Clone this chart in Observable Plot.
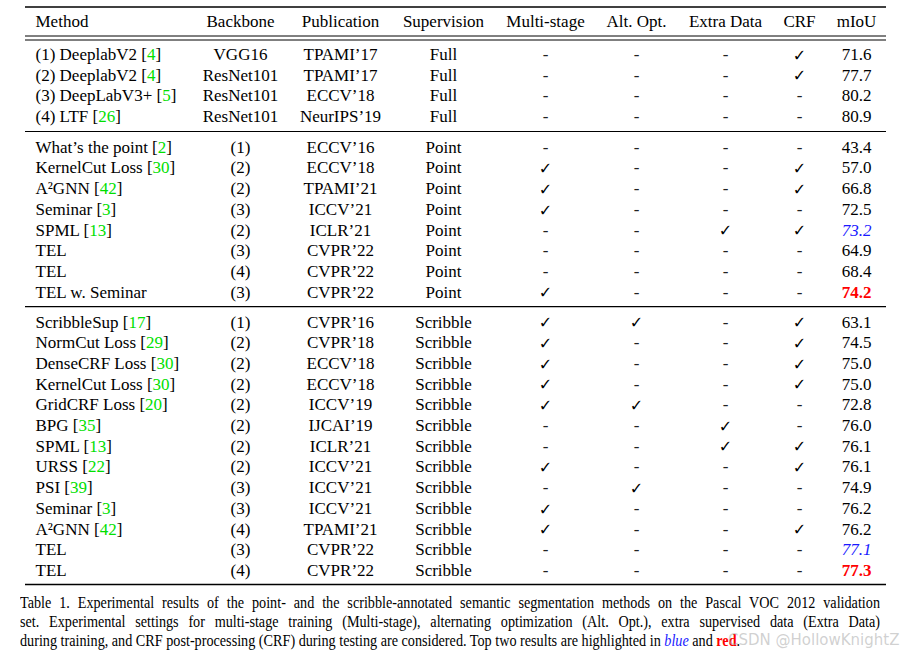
<!DOCTYPE html>
<html>
<head>
<meta charset="utf-8">
<script src="https://cdn.jsdelivr.net/npm/d3@7"></script>
<script src="https://cdn.jsdelivr.net/npm/@observablehq/plot@0.6"></script>
<style>
  html, body { margin: 0; padding: 0; background: #fff; }
  #wrap { position: relative; width: 904px; height: 654px; overflow: hidden; }
  #caption { position: absolute; left: 20px; top: 593px; width: 1000px;
    transform: scaleX(0.86); transform-origin: 0 0;
    font-family: "Liberation Serif", "Times New Roman", serif; font-size: 16.5px; line-height: 19px; color: #000; }
  #caption div { white-space: nowrap; }
  #caption .j { text-align: justify; text-align-last: justify; white-space: normal; }
  #wm { position: absolute; left: 728px; top: 631px; font-family: "DejaVu Sans", sans-serif; font-size: 15px; color: rgba(170,170,170,0.55); }
</style>
</head>
<body>
<div id="wrap">
  <div id="chart"></div>
  <div id="caption">
    <div class="j">Table 1. Experimental results of the point- and the scribble-annotated semantic segmentation methods on the Pascal VOC 2012 validation</div>
    <div class="j">set. Experimental settings for multi-stage training (Multi-stage), alternating optimization (Alt. Opt.), extra supervised data (Extra Data)</div>
    <div>during training, and CRF post-processing (CRF) during testing are considered. Top two results are highlighted in <i style="color:#1a1aff">blue</i> and <b style="color:#ff0000">red</b>.</div>
  </div>
  <div id="wm">CSDN @HollowKnightZ</div>
</div>
<script>
// ---- data ----
const headers = ["Method", "Backbone", "Publication", "Supervision", "Multi-stage", "Alt. Opt.", "Extra Data", "CRF", "mIoU"];
const methods = ["(1) DeeplabV2 [4]", "(2) DeeplabV2 [4]", "(3) DeepLabV3+ [5]", "(4) LTF [26]",
  "What’s the point [2]", "KernelCut Loss [30]", "A²GNN [42]", "Seminar [3]", "SPML [13]", "TEL", "TEL", "TEL w. Seminar",
  "ScribbleSup [17]", "NormCut Loss [29]", "DenseCRF Loss [30]", "KernelCut Loss [30]", "GridCRF Loss [20]", "BPG [35]",
  "SPML [13]", "URSS [22]", "PSI [39]", "Seminar [3]", "A²GNN [42]", "TEL", "TEL"];
const backbones = ["VGG16", "ResNet101", "ResNet101", "ResNet101",
  "(1)", "(2)", "(2)", "(3)", "(2)", "(3)", "(4)", "(3)",
  "(1)", "(2)", "(2)", "(2)", "(2)", "(2)", "(2)", "(2)", "(3)", "(3)", "(4)", "(3)", "(4)"];
const publications = ["TPAMI’17", "TPAMI’17", "ECCV’18", "NeurIPS’19",
  "ECCV’16", "ECCV’18", "TPAMI’21", "ICCV’21", "ICLR’21", "CVPR’22", "CVPR’22", "CVPR’22",
  "CVPR’16", "CVPR’18", "ECCV’18", "ECCV’18", "ICCV’19", "IJCAI’19", "ICLR’21", "ICCV’21", "ICCV’21", "ICCV’21", "TPAMI’21", "CVPR’22", "CVPR’22"];
const supervision = ["Full", "Full", "Full", "Full",
  "Point", "Point", "Point", "Point", "Point", "Point", "Point", "Point",
  "Scribble", "Scribble", "Scribble", "Scribble", "Scribble", "Scribble", "Scribble", "Scribble", "Scribble", "Scribble", "Scribble", "Scribble", "Scribble"];
const multiStage = [0, 0, 0, 0, 0, 1, 1, 1, 0, 0, 0, 1, 1, 1, 1, 1, 1, 0, 0, 1, 0, 1, 1, 0, 0];
const altOpt     = [0, 0, 0, 0, 0, 0, 0, 0, 0, 0, 0, 0, 1, 0, 0, 0, 1, 0, 0, 0, 1, 0, 0, 0, 0];
const extraData  = [0, 0, 0, 0, 0, 0, 0, 0, 1, 0, 0, 0, 0, 0, 0, 0, 0, 1, 1, 0, 0, 0, 0, 0, 0];
const crf        = [1, 1, 0, 0, 0, 1, 1, 0, 1, 0, 0, 0, 1, 1, 1, 1, 0, 0, 1, 1, 0, 0, 1, 0, 0];
const mIoU = [71.6, 77.7, 80.2, 80.9,
  43.4, 57.0, 66.8, 72.5, 73.2, 64.9, 68.4, 74.2,
  63.1, 74.5, 75.0, 75.0, 72.8, 76.0, 76.1, 76.1, 74.9, 76.2, 76.2, 77.1, 77.3];
const highlightGroups = ["Point", "Scribble"];

// ---- layout ----
const W = 904, H = 592;
const colX = [35, 240, 340, 443, 545, 636, 725, 799, 856];
const headerY = 21;
const groupStart = {Full: 54, Point: 146.8, Scribble: 321.6};
const pitch = 20.7;
const ruleL = 25, ruleR = 886;
const serif = "Liberation Serif, Times New Roman, DejaVu Sans, serif";

// ---- build rows ----
const counter = {};
const rows = methods.map((m, i) => {
  const g = supervision[i];
  counter[g] = (counter[g] ?? -1) + 1;
  return {
    method: m, backbone: backbones[i], pub: publications[i], sup: g,
    flags: [multiStage[i], altOpt[i], extraData[i], crf[i]],
    miou: mIoU[i], y: groupStart[g] + counter[g] * pitch, rank: 0
  };
});
for (const g of highlightGroups) {
  const sorted = rows.filter(r => r.sup === g).sort((a, b) => b.miou - a.miou);
  sorted[0].rank = 1; sorted[1].rank = 2;
}
const cells = [];
rows.forEach(r => r.flags.forEach((f, k) => cells.push({col: 4 + k, y: r.y, on: f})));
const groupOrder = ["Full", "Point", "Scribble"];
const sepY = [];
for (let k = 0; k < groupOrder.length - 1; k++) {
  const lastPrev = d3.max(rows.filter(r => r.sup === groupOrder[k]), r => r.y);
  const firstNext = d3.min(rows.filter(r => r.sup === groupOrder[k + 1]), r => r.y);
  sepY.push((lastPrev + firstNext) / 2 - 0.5);
}
const headerCells = headers.map((h, i) => ({h, x: colX[i]}));

const fs = 17;
const plot = Plot.plot({
  width: W, height: H, margin: 0,
  x: {domain: [0, W], range: [0, W], axis: null},
  y: {domain: [0, H], range: [0, H], axis: null},
  marks: [
    Plot.ruleY([6.5], {x1: ruleL, x2: ruleR, stroke: "#000", strokeWidth: 1.6}),
    Plot.ruleY([35.5, 39.5], {x1: ruleL, x2: ruleR, stroke: "#000", strokeWidth: 1}),
    Plot.ruleY(sepY, {x1: ruleL, x2: ruleR, stroke: "#000", strokeWidth: 1.1}),
    Plot.ruleY([584], {x1: ruleL, x2: ruleR, stroke: "#000", strokeWidth: 1.6}),
    Plot.text(headerCells.slice(0, 1), {x: "x", y: headerY, text: "h", textAnchor: "start",
      fontFamily: serif, fontSize: fs, fill: "#000"}),
    Plot.text(headerCells.slice(1), {x: "x", y: headerY, text: "h",
      fontFamily: serif, fontSize: fs, fill: "#000"}),
    Plot.text(rows, {x: colX[0], y: "y", text: "method", textAnchor: "start",
      fontFamily: serif, fontSize: fs, fill: "#000"}),
    Plot.text(rows, {x: colX[1], y: "y", text: "backbone", fontFamily: serif, fontSize: fs, fill: "#000"}),
    Plot.text(rows, {x: colX[2], y: "y", text: "pub", fontFamily: serif, fontSize: fs, fill: "#000"}),
    Plot.text(rows, {x: colX[3], y: "y", text: "sup", fontFamily: serif, fontSize: fs, fill: "#000"}),
    Plot.text(cells.filter(c => !c.on), {x: d => colX[d.col], y: "y", text: () => "-",
      fontFamily: serif, fontSize: fs, fill: "#222"}),
    Plot.text(cells.filter(c => c.on), {x: d => colX[d.col], y: d => d.y + 1, text: () => "✓",
      fontFamily: "DejaVu Sans, sans-serif", fontSize: 16, fontWeight: "bold", fill: "#000"}),
    Plot.text(rows.filter(r => r.rank === 0), {x: colX[8], y: "y", text: d => d.miou.toFixed(1),
      fontFamily: serif, fontSize: fs, fill: "#000"}),
    Plot.text(rows.filter(r => r.rank === 2), {x: colX[8], y: "y", text: d => d.miou.toFixed(1),
      fontFamily: serif, fontSize: fs, fontStyle: "italic", fill: "#1a1aff"}),
    Plot.text(rows.filter(r => r.rank === 1), {x: colX[8], y: "y", text: d => d.miou.toFixed(1),
      fontFamily: serif, fontSize: fs, fontWeight: "bold", fill: "#ff0000"})
  ]
});
document.getElementById("chart").appendChild(plot);

// colour the citation numbers green (brackets stay black)
const ns = "http://www.w3.org/2000/svg";
plot.querySelectorAll("text").forEach(t => {
  const s = t.textContent;
  const m = s.match(/^(.*\[)(\d+)(\].*)$/);
  if (!m) return;
  while (t.firstChild) t.removeChild(t.firstChild);
  [[m[1], null], [m[2], "#00e000"], [m[3], null]].forEach(([str, col]) => {
    const ts = document.createElementNS(ns, "tspan");
    ts.textContent = str;
    if (col) ts.setAttribute("fill", col);
    t.appendChild(ts);
  });
});
</script>
</body>
</html>
